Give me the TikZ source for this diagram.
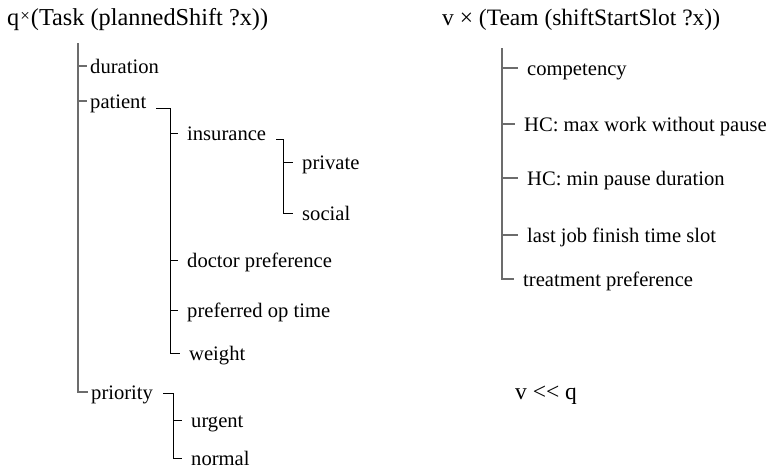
\documentclass[tikz,border=0pt]{standalone}
\usepackage{fontspec}
\setmainfont{Liberation Serif}

\begin{document}
\begin{tikzpicture}[x=1pt,y=-1pt]
    \tikzset{
        title/.style={anchor=base west, inner sep=0pt, font=\fontsize{23.5}{28}\selectfont},
        leaf/.style={anchor=west, inner xsep=3pt, inner ysep=0pt, text height=14pt, text depth=0pt, font=\fontsize{20.6}{24}\selectfont},
        trunk/.style={draw=gray!85!black, line width=1.5pt},
        branch/.style={draw=black, line width=1pt},
        gap/.style={shorten >=6pt},
        hook/.style={branch, shorten <=7pt}
    }
    \useasboundingbox (0,0) rectangle (770,472);

    % task tree
    \node[title, font=\fontsize{24.3}{28}\selectfont] (qtitle) at (7,25)
        {q\kern1pt\raisebox{4pt}{\fontsize{17}{17}\selectfont ×}\kern1pt(Task (plannedShift ?x))};
    \coordinate (qtop) at (78,43);
    \node[leaf] (dur) at (87,66) {duration};
    \node[leaf] (pat) at (87,101) {patient};
    \node[leaf] (prio) at (88,392) {priority};
    \coordinate (patjoin) at (170,108);
    \node[leaf] (ins) at (184,133) {insurance};
    \node[leaf] (doc) at (184,260) {doctor preference};
    \node[leaf] (opt) at (184,310) {preferred op time};
    \node[leaf] (wgt) at (186,353) {weight};
    \coordinate (insjoin) at (283,139);
    \node[leaf] (priv) at (299,162) {private};
    \node[leaf] (soc) at (299,213) {social};
    \coordinate (priojoin) at (173,393);
    \node[leaf] (urg) at (188,420) {urgent};
    \node[leaf] (norm) at (188,458) {normal};

    % team tree
    \node[title] (vtitle) at (442,25) {v × (Team (shiftStartSlot ?x))};
    \coordinate (vtop) at (502,48);
    \node[leaf] (comp) at (524,68) {competency};
    \node[leaf] (maxw) at (521,124) {HC: max work without pause};
    \node[leaf] (minp) at (524,178) {HC: min pause duration};
    \node[leaf] (last) at (524,235) {last job finish time slot};
    \node[leaf] (treat) at (520,279) {treatment preference};

    \node[title] (order) at (515,399) {v <\kern0pt< q};

    % edges
    \foreach \c in {dur,pat,prio}
        \draw[trunk] (qtop) |- (\c.west);
    \draw[hook] (pat.east |- patjoin) -- (patjoin);
    \foreach \c in {ins,doc,opt,wgt}
        \draw[branch,gap] (patjoin) |- (\c.west);
    \draw[hook] (ins.east |- insjoin) -- (insjoin);
    \foreach \c in {priv,soc}
        \draw[branch,gap] (insjoin) |- (\c.west);
    \draw[hook] (prio.east |- priojoin) -- (priojoin);
    \foreach \c in {urg,norm}
        \draw[branch,gap] (priojoin) |- (\c.west);

    \foreach \c in {comp,maxw,minp,last,treat}
        \draw[trunk,gap] (vtop) |- (\c.west);
\end{tikzpicture}
\end{document}
